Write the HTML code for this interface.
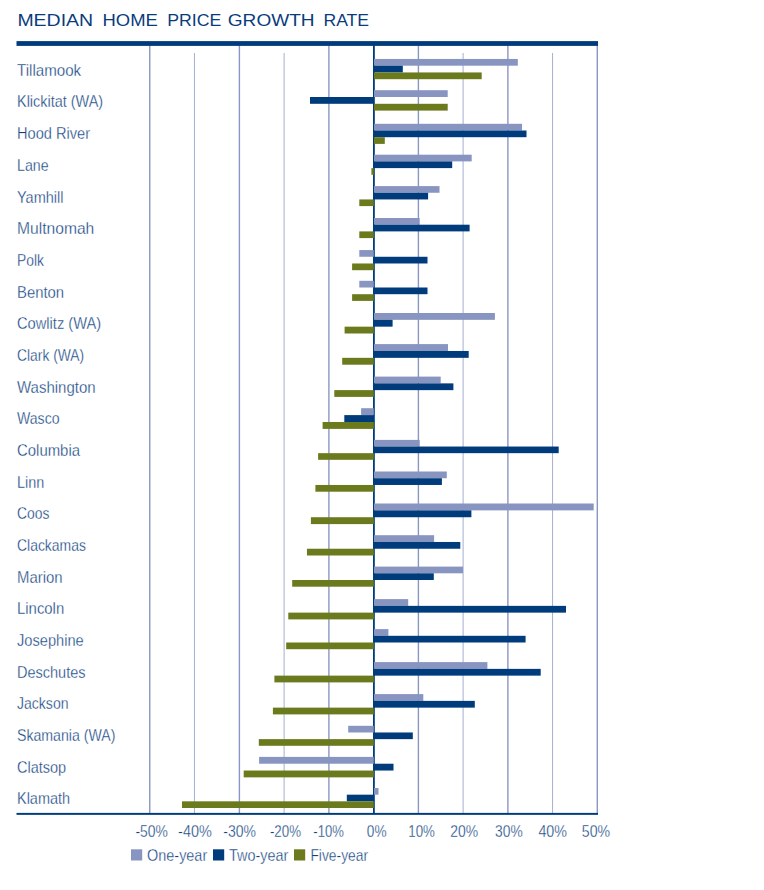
<!DOCTYPE html>
<html lang="en"><head><meta charset="utf-8"><title>Median Home Price Growth Rate</title>
<style>html,body{margin:0;padding:0;background:#fff}svg{display:block}text{font-family:"Liberation Sans",Arial,sans-serif}.t{font-size:17.3px;fill:#0a3c7c}.l,.a,.g{stroke:#fff;stroke-width:0.3px;paint-order:fill stroke}.l{font-size:16px;fill:#0e3f80}.a{font-size:16px;fill:#0e3f80}.g{font-size:15.7px;fill:#0e3f80}</style></head><body>
<svg width="764" height="890" viewBox="0 0 764 890">
<rect width="764" height="890" fill="#fff"/>
<text class="t" x="17.4" y="25.9" textLength="75.7" lengthAdjust="spacingAndGlyphs">MEDIAN</text>
<text class="t" x="102.5" y="25.9" textLength="55.3" lengthAdjust="spacingAndGlyphs">HOME</text>
<text class="t" x="167.2" y="25.9" textLength="54.1" lengthAdjust="spacingAndGlyphs">PRICE</text>
<text class="t" x="227.8" y="25.9" textLength="86.8" lengthAdjust="spacingAndGlyphs">GROWTH</text>
<text class="t" x="323.5" y="25.9" textLength="45.6" lengthAdjust="spacingAndGlyphs">RATE</text>
<line x1="149.75" x2="149.75" y1="45" y2="813.5" stroke="#8b97c3" stroke-width="1.4"/>
<line x1="239.40" x2="239.40" y1="45" y2="813.5" stroke="#8b97c3" stroke-width="1.4"/>
<line x1="328.90" x2="328.90" y1="45" y2="813.5" stroke="#8b97c3" stroke-width="1.4"/>
<line x1="418.40" x2="418.40" y1="45" y2="813.5" stroke="#8b97c3" stroke-width="1.4"/>
<line x1="507.90" x2="507.90" y1="45" y2="813.5" stroke="#8b97c3" stroke-width="1.4"/>
<line x1="597.30" x2="597.30" y1="45" y2="813.5" stroke="#8b97c3" stroke-width="1.4"/>
<line x1="194.45" x2="194.45" y1="53" y2="813.5" stroke="#95a0c9" stroke-width="0.85"/>
<line x1="284.10" x2="284.10" y1="53" y2="813.5" stroke="#95a0c9" stroke-width="0.85"/>
<line x1="463.10" x2="463.10" y1="53" y2="813.5" stroke="#95a0c9" stroke-width="0.85"/>
<line x1="552.55" x2="552.55" y1="53" y2="813.5" stroke="#95a0c9" stroke-width="0.85"/>
<rect x="16.5" y="41.1" width="581.5" height="4.8" fill="#003c7c"/>
<rect x="16.5" y="812.9" width="581.5" height="1.95" fill="#003c7c"/>
<rect x="373.0" y="45" width="1.8" height="769" fill="#003c7c"/>
<rect x="374.00" y="58.95" width="143.80" height="6.75" fill="#8895c0"/>
<rect x="374.00" y="65.70" width="28.80" height="6.75" fill="#003c7c"/>
<rect x="374.00" y="72.45" width="107.70" height="6.75" fill="#6a7a1c"/>
<text class="l" x="17.0" y="75.80" textLength="64.1" lengthAdjust="spacingAndGlyphs">Tillamook</text>
<rect x="374.00" y="90.20" width="73.70" height="6.80" fill="#8895c0"/>
<rect x="310.00" y="97.00" width="63.80" height="6.80" fill="#003c7c"/>
<rect x="374.00" y="103.80" width="73.70" height="6.80" fill="#6a7a1c"/>
<text class="l" x="17.0" y="107.48" textLength="86.1" lengthAdjust="spacingAndGlyphs">Klickitat (WA)</text>
<rect x="374.00" y="123.80" width="148.00" height="6.70" fill="#8895c0"/>
<rect x="374.00" y="130.50" width="152.50" height="6.70" fill="#003c7c"/>
<rect x="374.00" y="137.20" width="10.80" height="6.70" fill="#6a7a1c"/>
<text class="l" x="17.0" y="139.16" textLength="73.0" lengthAdjust="spacingAndGlyphs">Hood River</text>
<rect x="374.00" y="154.70" width="97.70" height="6.70" fill="#8895c0"/>
<rect x="374.00" y="161.40" width="78.20" height="6.70" fill="#003c7c"/>
<rect x="371.40" y="168.10" width="2.40" height="6.70" fill="#6a7a1c"/>
<text class="l" x="17.0" y="170.84" textLength="31.5" lengthAdjust="spacingAndGlyphs">Lane</text>
<rect x="374.00" y="186.10" width="65.50" height="6.67" fill="#8895c0"/>
<rect x="374.00" y="192.77" width="54.10" height="6.67" fill="#003c7c"/>
<rect x="359.30" y="199.43" width="14.50" height="6.67" fill="#6a7a1c"/>
<text class="l" x="17.0" y="202.52" textLength="46.5" lengthAdjust="spacingAndGlyphs">Yamhill</text>
<rect x="374.00" y="218.00" width="45.70" height="6.70" fill="#8895c0"/>
<rect x="374.00" y="224.70" width="95.60" height="6.70" fill="#003c7c"/>
<rect x="359.30" y="231.40" width="14.50" height="6.70" fill="#6a7a1c"/>
<text class="l" x="17.0" y="234.20" textLength="77.3" lengthAdjust="spacingAndGlyphs">Multnomah</text>
<rect x="359.30" y="250.05" width="14.50" height="6.72" fill="#8895c0"/>
<rect x="374.00" y="256.77" width="53.50" height="6.72" fill="#003c7c"/>
<rect x="352.10" y="263.48" width="21.70" height="6.72" fill="#6a7a1c"/>
<text class="l" x="17.0" y="265.88" textLength="26.9" lengthAdjust="spacingAndGlyphs">Polk</text>
<rect x="359.30" y="280.80" width="14.50" height="6.70" fill="#8895c0"/>
<rect x="374.00" y="287.50" width="53.50" height="6.70" fill="#003c7c"/>
<rect x="352.10" y="294.20" width="21.70" height="6.70" fill="#6a7a1c"/>
<text class="l" x="17.0" y="297.56" textLength="47.1" lengthAdjust="spacingAndGlyphs">Benton</text>
<rect x="374.00" y="313.00" width="120.90" height="6.83" fill="#8895c0"/>
<rect x="374.00" y="319.83" width="18.60" height="6.83" fill="#003c7c"/>
<rect x="344.60" y="326.67" width="29.20" height="6.83" fill="#6a7a1c"/>
<text class="l" x="17.0" y="329.24" textLength="84.1" lengthAdjust="spacingAndGlyphs">Cowlitz (WA)</text>
<rect x="374.00" y="344.10" width="74.00" height="6.87" fill="#8895c0"/>
<rect x="374.00" y="350.97" width="94.70" height="6.87" fill="#003c7c"/>
<rect x="342.20" y="357.83" width="31.60" height="6.87" fill="#6a7a1c"/>
<text class="l" x="17.0" y="360.92" textLength="67.2" lengthAdjust="spacingAndGlyphs">Clark (WA)</text>
<rect x="374.00" y="376.60" width="66.70" height="6.77" fill="#8895c0"/>
<rect x="374.00" y="383.37" width="79.40" height="6.77" fill="#003c7c"/>
<rect x="334.30" y="390.13" width="39.50" height="6.77" fill="#6a7a1c"/>
<text class="l" x="17.0" y="392.60" textLength="78.6" lengthAdjust="spacingAndGlyphs">Washington</text>
<rect x="361.10" y="408.20" width="12.70" height="6.90" fill="#8895c0"/>
<rect x="344.30" y="415.10" width="29.50" height="6.90" fill="#003c7c"/>
<rect x="322.60" y="422.00" width="51.20" height="6.90" fill="#6a7a1c"/>
<text class="l" x="17.0" y="424.28" textLength="42.5" lengthAdjust="spacingAndGlyphs">Wasco</text>
<rect x="374.00" y="439.90" width="45.70" height="6.63" fill="#8895c0"/>
<rect x="374.00" y="446.53" width="184.70" height="6.63" fill="#003c7c"/>
<rect x="318.10" y="453.17" width="55.70" height="6.63" fill="#6a7a1c"/>
<text class="l" x="17.0" y="455.96" textLength="63.0" lengthAdjust="spacingAndGlyphs">Columbia</text>
<rect x="374.00" y="471.50" width="72.80" height="6.73" fill="#8895c0"/>
<rect x="374.00" y="478.23" width="67.90" height="6.73" fill="#003c7c"/>
<rect x="315.40" y="484.97" width="58.40" height="6.73" fill="#6a7a1c"/>
<text class="l" x="17.0" y="487.64" textLength="27.3" lengthAdjust="spacingAndGlyphs">Linn</text>
<rect x="374.00" y="503.50" width="219.70" height="6.87" fill="#8895c0"/>
<rect x="374.00" y="510.37" width="97.40" height="6.87" fill="#003c7c"/>
<rect x="310.90" y="517.23" width="62.90" height="6.87" fill="#6a7a1c"/>
<text class="l" x="17.0" y="519.32" textLength="32.4" lengthAdjust="spacingAndGlyphs">Coos</text>
<rect x="374.00" y="535.20" width="60.10" height="6.77" fill="#8895c0"/>
<rect x="374.00" y="541.97" width="86.30" height="6.77" fill="#003c7c"/>
<rect x="306.95" y="548.73" width="66.85" height="6.77" fill="#6a7a1c"/>
<text class="l" x="17.0" y="551.00" textLength="68.9" lengthAdjust="spacingAndGlyphs">Clackamas</text>
<rect x="374.00" y="566.60" width="89.00" height="6.70" fill="#8895c0"/>
<rect x="374.00" y="573.30" width="59.80" height="6.70" fill="#003c7c"/>
<rect x="292.20" y="580.00" width="81.60" height="6.70" fill="#6a7a1c"/>
<text class="l" x="17.0" y="582.68" textLength="45.6" lengthAdjust="spacingAndGlyphs">Marion</text>
<rect x="374.00" y="599.10" width="34.20" height="6.77" fill="#8895c0"/>
<rect x="374.00" y="605.87" width="192.00" height="6.77" fill="#003c7c"/>
<rect x="288.30" y="612.63" width="85.50" height="6.77" fill="#6a7a1c"/>
<text class="l" x="17.0" y="614.36" textLength="47.2" lengthAdjust="spacingAndGlyphs">Lincoln</text>
<rect x="374.00" y="629.10" width="14.40" height="6.70" fill="#8895c0"/>
<rect x="374.00" y="635.80" width="151.60" height="6.70" fill="#003c7c"/>
<rect x="286.20" y="642.50" width="87.60" height="6.70" fill="#6a7a1c"/>
<text class="l" x="17.0" y="646.04" textLength="66.7" lengthAdjust="spacingAndGlyphs">Josephine</text>
<rect x="374.00" y="662.10" width="113.40" height="6.77" fill="#8895c0"/>
<rect x="374.00" y="668.87" width="166.70" height="6.77" fill="#003c7c"/>
<rect x="274.40" y="675.63" width="99.40" height="6.77" fill="#6a7a1c"/>
<text class="l" x="17.0" y="677.72" textLength="68.5" lengthAdjust="spacingAndGlyphs">Deschutes</text>
<rect x="374.00" y="694.10" width="49.30" height="6.77" fill="#8895c0"/>
<rect x="374.00" y="700.87" width="100.80" height="6.77" fill="#003c7c"/>
<rect x="272.90" y="707.63" width="100.90" height="6.77" fill="#6a7a1c"/>
<text class="l" x="17.0" y="709.40" textLength="51.5" lengthAdjust="spacingAndGlyphs">Jackson</text>
<rect x="348.20" y="725.80" width="25.60" height="6.67" fill="#8895c0"/>
<rect x="374.00" y="732.47" width="38.80" height="6.67" fill="#003c7c"/>
<rect x="258.80" y="739.13" width="115.00" height="6.67" fill="#6a7a1c"/>
<text class="l" x="17.0" y="741.08" textLength="98.4" lengthAdjust="spacingAndGlyphs">Skamania (WA)</text>
<rect x="259.10" y="756.90" width="114.70" height="6.82" fill="#8895c0"/>
<rect x="374.00" y="763.72" width="19.50" height="6.82" fill="#003c7c"/>
<rect x="243.70" y="770.53" width="130.10" height="6.82" fill="#6a7a1c"/>
<text class="l" x="17.0" y="772.76" textLength="49.1" lengthAdjust="spacingAndGlyphs">Clatsop</text>
<rect x="374.00" y="788.00" width="4.50" height="6.67" fill="#8895c0"/>
<rect x="346.80" y="794.67" width="27.00" height="6.67" fill="#003c7c"/>
<rect x="182.00" y="801.33" width="191.80" height="6.67" fill="#6a7a1c"/>
<text class="l" x="17.0" y="804.44" textLength="53.1" lengthAdjust="spacingAndGlyphs">Klamath</text>
<text class="a" x="135.5" y="836.6" textLength="32.4" lengthAdjust="spacingAndGlyphs">-50%</text>
<text class="a" x="178.1" y="836.6" textLength="33.7" lengthAdjust="spacingAndGlyphs">-40%</text>
<text class="a" x="223.3" y="836.6" textLength="32.7" lengthAdjust="spacingAndGlyphs">-30%</text>
<text class="a" x="269.9" y="836.6" textLength="31.1" lengthAdjust="spacingAndGlyphs">-20%</text>
<text class="a" x="313.3" y="836.6" textLength="30.5" lengthAdjust="spacingAndGlyphs">-10%</text>
<text class="a" x="366.8" y="836.6" textLength="19.7" lengthAdjust="spacingAndGlyphs">0%</text>
<text class="a" x="408.3" y="836.6" textLength="26.6" lengthAdjust="spacingAndGlyphs">10%</text>
<text class="a" x="450.2" y="836.6" textLength="27.9" lengthAdjust="spacingAndGlyphs">20%</text>
<text class="a" x="495.1" y="836.6" textLength="27.6" lengthAdjust="spacingAndGlyphs">30%</text>
<text class="a" x="538.4" y="836.6" textLength="28.6" lengthAdjust="spacingAndGlyphs">40%</text>
<text class="a" x="581.8" y="836.6" textLength="28.3" lengthAdjust="spacingAndGlyphs">50%</text>
<rect x="131.0" y="849.3" width="11.2" height="11.2" fill="#8895c0"/>
<text class="g" x="147.1" y="860.5" textLength="60.1" lengthAdjust="spacingAndGlyphs">One-year</text>
<rect x="213.0" y="849.3" width="11.2" height="11.2" fill="#003c7c"/>
<text class="g" x="229.1" y="860.5" textLength="59.2" lengthAdjust="spacingAndGlyphs">Two-year</text>
<rect x="294.0" y="849.3" width="11.2" height="11.2" fill="#6a7a1c"/>
<text class="g" x="310.4" y="860.5" textLength="57.7" lengthAdjust="spacingAndGlyphs">Five-year</text>
</svg></body></html>
